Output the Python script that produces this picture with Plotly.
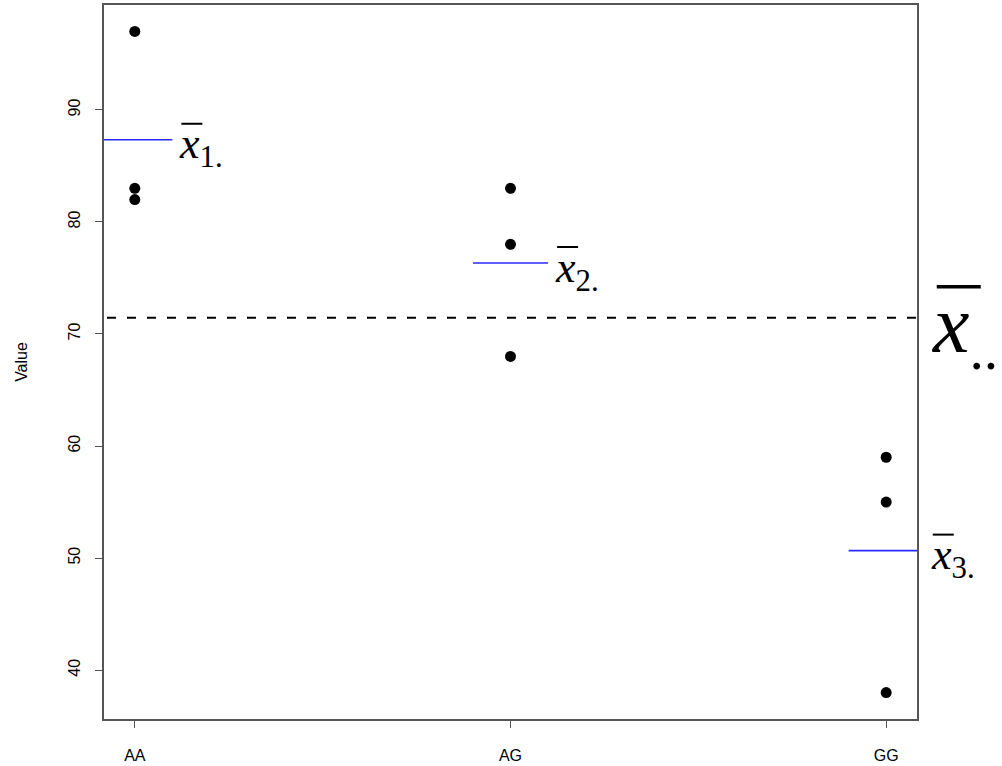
import plotly.graph_objects as go

groups = ["AA", "AG", "GG"]
group_pos = [1, 2, 3]
aa_values = [97, 83, 82]
ag_values = [83, 78, 68]
gg_values = [59, 55, 38]
y_ticks = [40, 50, 60, 70, 80, 90]

series = [aa_values, ag_values, gg_values]
means = [sum(v) / len(v) for v in series]
all_vals = [v for s in series for v in s]
grand_mean = sum(all_vals) / len(all_vals)

x_range = [0.918, 3.082]
y_range = [35.64, 99.36]


def px(x):
    return (x - x_range[0]) / (x_range[1] - x_range[0])


def py(y):
    return (y - y_range[0]) / (y_range[1] - y_range[0])


fig = go.Figure()

for pos, vals in zip(group_pos, series):
    fig.add_trace(go.Scatter(
        x=[pos] * len(vals), y=vals, mode="markers",
        marker=dict(color="black", size=11), showlegend=False, hoverinfo="skip"))

fig.add_trace(go.Scatter(
    x=[0.5, 3.5], y=[grand_mean, grand_mean], mode="lines",
    line=dict(color="black", width=2, dash="9px,11px"), showlegend=False, hoverinfo="skip"))

for pos, m in zip(group_pos, means):
    fig.add_trace(go.Scatter(
        x=[pos - 0.1, pos + 0.1], y=[m, m], mode="lines",
        line=dict(color="#2a2aff", width=1.6), showlegend=False, hoverinfo="skip"))

serif = "Liberation Serif"
for i, (pos, m) in enumerate(zip(group_pos, means)):
    fig.add_annotation(
        x=px(pos + 0.1), y=py(m), xref="paper", yref="paper", xanchor="left", yanchor="middle",
        text=f"<i>x</i><sub>{i+1}.</sub>", showarrow=False, xshift=5, yshift=-7,
        font=dict(family=serif, size=44, color="black"))
    fig.add_shape(type="line", xref="paper", yref="paper",
                  xsizemode="pixel", ysizemode="pixel",
                  xanchor=px(pos + 0.1), yanchor=py(m),
                  x0=9, x1=30, y0=16, y1=16,
                  line=dict(color="black", width=2))

fig.add_annotation(
    x=px(3.1), y=py(grand_mean), xref="paper", yref="paper", xanchor="left", yanchor="middle",
    text="<i>x</i><sub>..</sub>", showarrow=False, xshift=6, yshift=-12,
    font=dict(family=serif, size=82, color="black"))
fig.add_shape(type="line", xref="paper", yref="paper",
              xsizemode="pixel", ysizemode="pixel",
              xanchor=px(3.1), yanchor=py(grand_mean),
              x0=13, x1=57, y0=31, y1=31,
              line=dict(color="black", width=3.5))

axis_common = dict(showgrid=False, zeroline=False, showline=True, mirror=True,
                   linecolor="#555555", linewidth=1.5, ticks="outside", ticklen=7,
                   tickcolor="#555555", tickwidth=1.2, automargin=False,
                   tickfont=dict(family="Liberation Sans", size=16, color="black"))

fig.update_layout(
    width=1002, height=766,
    margin=dict(l=104, r=85, t=5, b=47),
    paper_bgcolor="white", plot_bgcolor="white",
    xaxis=dict(range=x_range, tickvals=group_pos, ticktext=groups,
               ticklabelstandoff=14, **axis_common),
    yaxis=dict(range=y_range, tickvals=y_ticks, tickangle=-90,
               ticklabelstandoff=9,
               title=dict(text="Value", font=dict(family="Liberation Sans", size=16, color="black"), standoff=34),
               **axis_common),
)

fig.write_html("out.html", config={"displayModeBar": False},
               post_script="document.body.style.margin='0';")
